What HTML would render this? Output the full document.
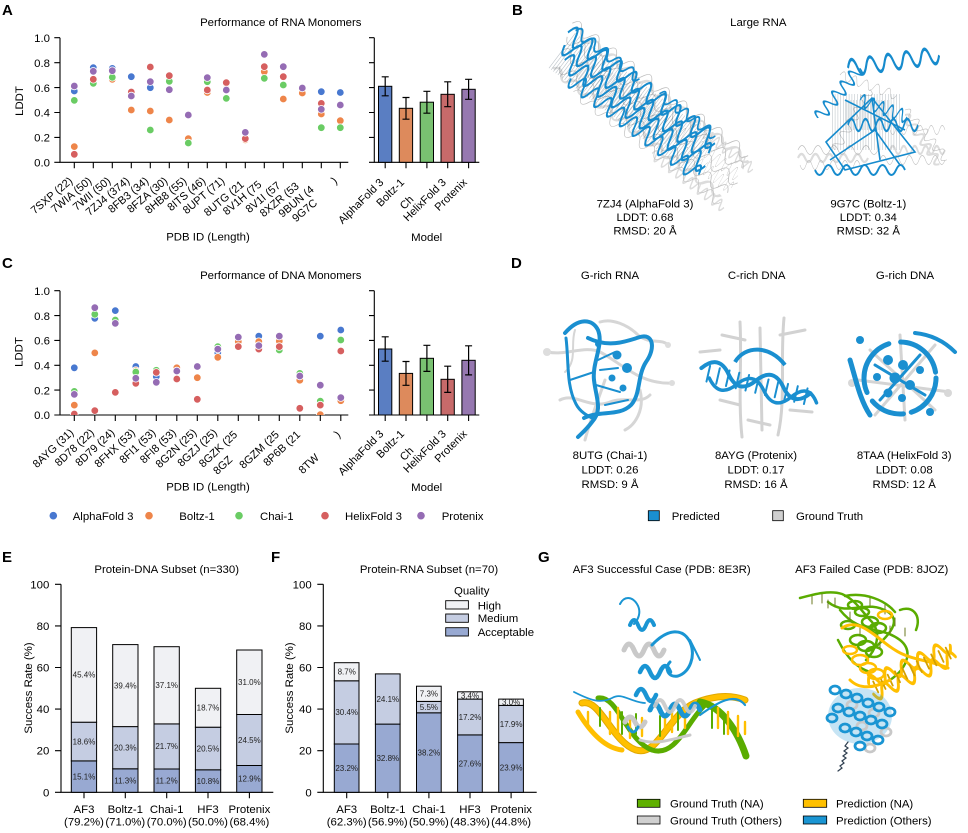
<!DOCTYPE html>
<html><head><meta charset="utf-8"><style>
html,body{margin:0;padding:0;background:#fff;}
svg{display:block;font-family:"Liberation Sans",Arial,sans-serif;}
.L{font-weight:bold;font-size:15px;}
.s{font-size:8px;}
.r{font-size:11px;}
</style></head><body>
<svg width="968" height="833" viewBox="0 0 968 833" xmlns="http://www.w3.org/2000/svg" font-size="11.4" fill="#000">
<defs>
<path id="wv" d="M0,0 q5,-14 10,0 t10,0 t10,0 t10,0 t10,0 t10,0 t10,0 t10,0 t10,0 t10,0 t10,0 t10,0 t10,0 t10,0 t10,0 t10,0 t10,0 t10,0 t10,0 t10,0"/>
<path id="wvs" d="M0,0 q5,-10 10,0 t10,0 t10,0 t10,0 t10,0 t10,0 t10,0 t10,0 t10,0 t10,0"/>
<clipPath id="ca"><rect x="60" y="30" width="290" height="132.3"/></clipPath>
<clipPath id="cc"><rect x="60" y="283" width="290" height="132"/></clipPath>
</defs>
<rect width="968" height="833" fill="#fff"/>

<!-- ================= PANEL A ================= -->
<text x="2" y="15" class="L">A</text>
<text x="280.8" y="26" text-anchor="middle">Performance of RNA Monomers</text>
<g stroke="#000" stroke-width="1.1" fill="none">
<path d="M60,37.7V162.3H348.3"/>
<path d="M54.3,162.3H60M54.3,137.4H60M54.3,112.5H60M54.3,87.6H60M54.3,62.7H60M54.3,37.7H60"/>
<path d="M74.3,162.3v6M93.3,162.3v6M112.3,162.3v6M131.3,162.3v6M150.3,162.3v6M169.3,162.3v6M188.3,162.3v6M207.3,162.3v6M226.3,162.3v6M245.3,162.3v6M264.3,162.3v6M283.3,162.3v6M302.3,162.3v6M321.3,162.3v6M340.3,162.3v6"/>
<path d="M374.3,37.7V162.3H479.3"/>
<path d="M369,162.3h5.3M369,137.4h5.3M369,112.5h5.3M369,87.6h5.3M369,62.7h5.3M369,37.7h5.3"/>
<path d="M385.2,162.3v6M406,162.3v6M426.9,162.3v6M447.7,162.3v6M468.6,162.3v6"/>
</g>
<g text-anchor="end">
<text x="50" y="166.5">0.0</text><text x="50" y="141.6">0.2</text><text x="50" y="116.7">0.4</text><text x="50" y="91.8">0.6</text><text x="50" y="66.9">0.8</text><text x="50" y="41.9">1.0</text>
</g>
<text transform="translate(23,101) rotate(-90)" text-anchor="middle">LDDT</text>
<text x="208" y="240.5" text-anchor="middle">PDB ID (Length)</text>
<text x="426.7" y="241" text-anchor="middle">Model</text>
<g class="r" text-anchor="end">
<text transform="translate(73.3,182) rotate(-40)">7SXP (22)</text>
<text transform="translate(92.3,182) rotate(-40)">7WIA (50)</text>
<text transform="translate(111.3,182) rotate(-40)">7WII (50)</text>
<text transform="translate(130.3,182) rotate(-40)">7ZJ4 (374)</text>
<text transform="translate(149.3,182) rotate(-40)">8FB3 (34)</text>
<text transform="translate(168.3,182) rotate(-40)">8FZA (30)</text>
<text transform="translate(187.3,182) rotate(-40)">8HB8 (55)</text>
<text transform="translate(206.3,182) rotate(-40)">8ITS (46)</text>
<text transform="translate(225.3,182) rotate(-40)">8UPT (71)</text>
<text transform="translate(244.7,185.7) rotate(-40)">8UTG (21</text>
<text transform="translate(262.3,185.7) rotate(-40)">8V1H (75</text>
<text transform="translate(281.3,186.7) rotate(-40)">8V1I (57</text>
<text transform="translate(299.7,187.3) rotate(-40)">8XZR (53</text>
<text transform="translate(314.7,190.7) rotate(-40)">9BUN (4</text>
<text transform="translate(318,204) rotate(-40)">9G7C</text>
<text transform="translate(338,182) rotate(-40)">)</text>
<text transform="translate(384.2,183) rotate(-45)">AlphaFold 3</text>
<text transform="translate(405,183) rotate(-45)">Boltz-1</text>
<text transform="translate(414.2,200) rotate(-45)">Ch</text>
<text transform="translate(446.7,183) rotate(-45)">HelixFold 3</text>
<text transform="translate(467.6,183) rotate(-45)">Protenix</text>
</g>
<g clip-path="url(#ca)" stroke="#fff" stroke-width="0.8">
<g fill="#4878d0"><circle cx="74.3" cy="91" r="3.8"/><circle cx="93.3" cy="67.7" r="3.8"/><circle cx="112.3" cy="68.4" r="3.8"/><circle cx="131.3" cy="76.7" r="3.8"/><circle cx="150.3" cy="87.7" r="3.8"/><circle cx="302.3" cy="87.5" r="3.8"/><circle cx="321.3" cy="91.7" r="3.8"/><circle cx="340.3" cy="92.5" r="3.8"/></g>
<g fill="#ee854a"><circle cx="74.3" cy="146.6" r="3.8"/><circle cx="93.3" cy="81.3" r="3.8"/><circle cx="112.3" cy="79.3" r="3.8"/><circle cx="131.3" cy="110" r="3.8"/><circle cx="150.3" cy="111" r="3.8"/><circle cx="169.3" cy="120" r="3.8"/><circle cx="188.3" cy="138.6" r="3.8"/><circle cx="207.3" cy="92.5" r="3.8"/><circle cx="226.3" cy="83.8" r="3.8"/><circle cx="245.3" cy="139.9" r="3.8"/><circle cx="264.3" cy="71.7" r="3.8"/><circle cx="283.3" cy="99" r="3.8"/><circle cx="302.3" cy="93" r="3.8"/><circle cx="321.3" cy="114" r="3.8"/><circle cx="340.3" cy="120.7" r="3.8"/></g>
<g fill="#6acc64"><circle cx="74.3" cy="100.4" r="3.8"/><circle cx="93.3" cy="83.3" r="3.8"/><circle cx="112.3" cy="77.3" r="3.8"/><circle cx="150.3" cy="130" r="3.8"/><circle cx="169.3" cy="81.3" r="3.8"/><circle cx="188.3" cy="143" r="3.8"/><circle cx="207.3" cy="81.7" r="3.8"/><circle cx="226.3" cy="98.4" r="3.8"/><circle cx="264.3" cy="78.3" r="3.8"/><circle cx="283.3" cy="85" r="3.8"/><circle cx="321.3" cy="127.7" r="3.8"/><circle cx="340.3" cy="127.7" r="3.8"/></g>
<g fill="#d65f5f"><circle cx="74.3" cy="154.3" r="3.8"/><circle cx="93.3" cy="79.3" r="3.8"/><circle cx="131.3" cy="92" r="3.8"/><circle cx="150.3" cy="67" r="3.8"/><circle cx="169.3" cy="75.7" r="3.8"/><circle cx="207.3" cy="90" r="3.8"/><circle cx="226.3" cy="82.6" r="3.8"/><circle cx="245.3" cy="138.6" r="3.8"/><circle cx="264.3" cy="66.7" r="3.8"/><circle cx="283.3" cy="76.7" r="3.8"/><circle cx="321.3" cy="103.4" r="3.8"/></g>
<g fill="#956cb4"><circle cx="74.3" cy="86" r="3.8"/><circle cx="93.3" cy="71.3" r="3.8"/><circle cx="112.3" cy="70.7" r="3.8"/><circle cx="131.3" cy="96" r="3.8"/><circle cx="150.3" cy="81.7" r="3.8"/><circle cx="169.3" cy="89.7" r="3.8"/><circle cx="188.3" cy="115" r="3.8"/><circle cx="207.3" cy="77.6" r="3.8"/><circle cx="226.3" cy="90" r="3.8"/><circle cx="245.3" cy="132.4" r="3.8"/><circle cx="264.3" cy="54.4" r="3.8"/><circle cx="283.3" cy="66.7" r="3.8"/><circle cx="302.3" cy="88" r="3.8"/><circle cx="321.3" cy="109.3" r="3.8"/><circle cx="340.3" cy="105" r="3.8"/></g>
</g>
<g stroke="#000" stroke-width="1">
<rect x="378.5" y="86.3" width="13.3" height="76" fill="#5a7ec2"/>
<rect x="399.3" y="108.3" width="13.3" height="54" fill="#dd8a5c"/>
<rect x="420.2" y="102.2" width="13.3" height="60.1" fill="#79c171"/>
<rect x="441" y="94.3" width="13.3" height="68" fill="#c76a6a"/>
<rect x="461.9" y="89.3" width="13.3" height="73" fill="#9678b0"/>
<path fill="none" stroke-width="1.2" d="M385.2,76.8V95.8M381.7,76.8h7M381.7,95.8h7M406,97.5V119.2M402.5,97.5h7M402.5,119.2h7M426.9,91.3V113.2M423.4,91.3h7M423.4,113.2h7M447.7,81.8V106.7M444.2,81.8h7M444.2,106.7h7M468.6,79.3V99.3M465.1,79.3h7M465.1,99.3h7"/>
</g>

<!-- ================= PANEL B ================= -->
<text x="512" y="15" class="L">B</text>
<text x="758.3" y="26" text-anchor="middle">Large RNA</text>
<g fill="none">
<g transform="translate(645,113) rotate(37)">
<g stroke="#dcdcdc" stroke-width="3"><use href="#wv" transform="translate(-108,-24) scale(1.1,0.6)"/><use href="#wv" transform="translate(-100,20) scale(1.05,0.6)"/><use href="#wv" transform="translate(30,28) scale(0.45,0.7)"/><use href="#wv" transform="translate(40,-20) scale(0.4,0.7)"/></g>
<g stroke="#bdbdbd" stroke-width="0.8"><use href="#wv" transform="translate(-112,-28) scale(1.1,0.8)"/><use href="#wv" transform="translate(-108,-14) scale(1.1,-0.8)"/><use href="#wv" transform="translate(-104,0) scale(1.1,0.8)"/><use href="#wv" transform="translate(-96,14) scale(1.05,-0.8)"/><use href="#wv" transform="translate(-70,26) scale(0.92,0.7)"/><use href="#wv" transform="translate(40,-6) scale(0.36,0.9)"/><use href="#wv" transform="translate(50,8) scale(0.32,-0.9)"/></g>
<path d="M-104,0H72" stroke="#34495a" stroke-width="44" stroke-dasharray="0.6 2.2" opacity="0.33"/>
<path d="M-80,0H40" stroke="#34495a" stroke-width="26" stroke-dasharray="0.6 2.4" opacity="0.3"/>
<g stroke="#168bcd" stroke-width="2.1"><use href="#wv" transform="translate(-110,-18) scale(0.92,1.3)"/><use href="#wv" transform="translate(-105,-6) scale(0.9,-1.3)"/><use href="#wv" transform="translate(-96,6) scale(0.88,1.3)"/><use href="#wv" transform="translate(-80,17) scale(0.8,-1.2)"/><use href="#wvs" transform="translate(-105,-24) scale(0.8,1)"/><use href="#wvs" transform="translate(0,-24) scale(0.7,1)"/></g>
</g>
<g stroke="#dcdcdc" stroke-width="3"><use href="#wvs" transform="translate(798,158) scale(0.7,0.8)"/><use href="#wvs" transform="translate(890,150) scale(0.55,0.8)"/><use href="#wvs" transform="translate(905,115) rotate(55) scale(0.6,0.8)"/></g>
<g stroke="#bdbdbd" stroke-width="0.8"><use href="#wvs" transform="translate(798,150) scale(0.8,0.9)"/><use href="#wvs" transform="translate(800,165) scale(0.6,-0.9)"/><use href="#wvs" transform="translate(880,160) scale(0.65,0.9)"/><use href="#wvs" transform="translate(890,130) scale(0.55,-0.9)"/><use href="#wvs" transform="translate(835,150) rotate(-60) scale(0.7,0.9)"/><use href="#wvs" transform="translate(905,110) rotate(50) scale(0.65,0.9)"/><use href="#wvs" transform="translate(840,75) rotate(20) scale(0.6,0.9)"/></g>
<path d="M832,122H900" stroke="#34495a" stroke-width="56" stroke-dasharray="0.6 2.2" opacity="0.3"/>
<path d="M845,115H890" stroke="#34495a" stroke-width="30" stroke-dasharray="0.6 2.2" opacity="0.3"/>
<g stroke="#168bcd" stroke-width="2.1"><use href="#wvs" transform="translate(848,68) rotate(-8) scale(0.92,1.6)"/><use href="#wvs" transform="translate(818,118) rotate(-50) scale(0.65,1.2)"/><use href="#wvs" transform="translate(848,125) scale(0.7,1.2)"/><use href="#wvs" transform="translate(815,170) scale(0.9,-1)"/><use href="#wvs" transform="translate(860,100) rotate(20) scale(0.5,1.2)"/><path stroke-width="1.6" d="M826,142L872,98L915,152L845,170ZM872,98L880,160M845,100L905,130M830,160L875,130L900,165"/></g>
</g>
<g text-anchor="middle">
<text x="645" y="207.5">7ZJ4 (AlphaFold 3)</text><text x="645" y="221">LDDT: 0.68</text><text x="645" y="234.5">RMSD: 20 Å</text>
<text x="868.3" y="207.5">9G7C (Boltz-1)</text><text x="868.3" y="221">LDDT: 0.34</text><text x="868.3" y="234.5">RMSD: 32 Å</text>
</g>

<!-- ================= PANEL C ================= -->
<text x="2" y="268" class="L">C</text>
<text x="280.8" y="279" text-anchor="middle">Performance of DNA Monomers</text>
<g stroke="#000" stroke-width="1.1" fill="none">
<path d="M60,290.7V415H348.3"/>
<path d="M54.3,415H60M54.3,390.1H60M54.3,365.3H60M54.3,340.4H60M54.3,315.6H60M54.3,290.7H60"/>
<path d="M74.3,415v6M94.8,415v6M115.3,415v6M135.8,415v6M156.3,415v6M176.8,415v6M197.3,415v6M217.8,415v6M238.3,415v6M258.8,415v6M279.3,415v6M299.8,415v6M320.3,415v6M340.8,415v6"/>
<path d="M374.3,290.7V415H479.3"/>
<path d="M369,415h5.3M369,390.1h5.3M369,365.3h5.3M369,340.4h5.3M369,315.6h5.3M369,290.7h5.3"/>
<path d="M385.2,415v6M406,415v6M426.9,415v6M447.7,415v6M468.6,415v6"/>
</g>
<g text-anchor="end">
<text x="50" y="419.2">0.0</text><text x="50" y="394.3">0.2</text><text x="50" y="369.5">0.4</text><text x="50" y="344.6">0.6</text><text x="50" y="319.8">0.8</text><text x="50" y="294.9">1.0</text>
</g>
<text transform="translate(22.5,352) rotate(-90)" text-anchor="middle">LDDT</text>
<text x="208" y="490.5" text-anchor="middle">PDB ID (Length)</text>
<text x="426.7" y="491" text-anchor="middle">Model</text>
<g class="r" text-anchor="end">
<text transform="translate(74.3,433.5) rotate(-43)">8AYG (31)</text>
<text transform="translate(94.8,433.5) rotate(-43)">8D78 (22)</text>
<text transform="translate(115.3,433.5) rotate(-43)">8D79 (24)</text>
<text transform="translate(135.8,433.5) rotate(-43)">8FHX (53)</text>
<text transform="translate(156.3,433.5) rotate(-43)">8FI1 (53)</text>
<text transform="translate(176.8,433.5) rotate(-43)">8FI8 (53)</text>
<text transform="translate(197.3,433.5) rotate(-43)">8G2N (25)</text>
<text transform="translate(217.8,433.5) rotate(-43)">8GZJ (25)</text>
<text transform="translate(238,435.5) rotate(-43)">8GZK (25</text>
<text transform="translate(233,460.5) rotate(-43)">8GZ</text>
<text transform="translate(279.7,435.5) rotate(-43)">8GZM (25</text>
<text transform="translate(301,435.5) rotate(-43)">8P6B (21</text>
<text transform="translate(319.7,458.5) rotate(-43)">8TW</text>
<text transform="translate(341,435.5) rotate(-43)">)</text>
<text transform="translate(384.2,434.5) rotate(-45)">AlphaFold 3</text>
<text transform="translate(405,434.5) rotate(-45)">Boltz-1</text>
<text transform="translate(414.2,451.3) rotate(-45)">Ch</text>
<text transform="translate(446.7,434.5) rotate(-45)">HelixFold 3</text>
<text transform="translate(467.6,434.5) rotate(-45)">Protenix</text>
</g>
<g clip-path="url(#cc)" stroke="#fff" stroke-width="0.8">
<g fill="#4878d0"><circle cx="74.3" cy="367.8" r="3.8"/><circle cx="94.8" cy="318.4" r="3.8"/><circle cx="115.3" cy="310.6" r="3.8"/><circle cx="135.8" cy="366.5" r="3.8"/><circle cx="156.3" cy="376.5" r="3.8"/><circle cx="217.8" cy="352.9" r="3.8"/><circle cx="238.3" cy="340.4" r="3.8"/><circle cx="258.8" cy="336.1" r="3.8"/><circle cx="279.3" cy="342.9" r="3.8"/><circle cx="320.3" cy="336.1" r="3.8"/><circle cx="340.8" cy="330" r="3.8"/></g>
<g fill="#ee854a"><circle cx="74.3" cy="405.1" r="3.8"/><circle cx="94.8" cy="352.9" r="3.8"/><circle cx="135.8" cy="370.6" r="3.8"/><circle cx="176.8" cy="367.8" r="3.8"/><circle cx="197.3" cy="377.7" r="3.8"/><circle cx="217.8" cy="357.3" r="3.8"/><circle cx="238.3" cy="341.7" r="3.8"/><circle cx="258.8" cy="341.7" r="3.8"/><circle cx="279.3" cy="341" r="3.8"/><circle cx="299.8" cy="380.2" r="3.8"/><circle cx="320.3" cy="414.6" r="3.8"/><circle cx="340.8" cy="400.7" r="3.8"/></g>
<g fill="#6acc64"><circle cx="74.3" cy="391.4" r="3.8"/><circle cx="94.8" cy="314.3" r="3.8"/><circle cx="115.3" cy="320" r="3.8"/><circle cx="135.8" cy="372" r="3.8"/><circle cx="156.3" cy="370.3" r="3.8"/><circle cx="217.8" cy="346.6" r="3.8"/><circle cx="279.3" cy="350" r="3.8"/><circle cx="299.8" cy="373.4" r="3.8"/><circle cx="320.3" cy="401.1" r="3.8"/><circle cx="340.8" cy="340" r="3.8"/></g>
<g fill="#d65f5f"><circle cx="74.3" cy="414" r="3.8"/><circle cx="94.8" cy="410.6" r="3.8"/><circle cx="115.3" cy="392.4" r="3.8"/><circle cx="135.8" cy="383.3" r="3.8"/><circle cx="156.3" cy="372.4" r="3.8"/><circle cx="176.8" cy="379" r="3.8"/><circle cx="197.3" cy="399.3" r="3.8"/><circle cx="238.3" cy="346.6" r="3.8"/><circle cx="258.8" cy="349.1" r="3.8"/><circle cx="279.3" cy="346.6" r="3.8"/><circle cx="299.8" cy="408.3" r="3.8"/><circle cx="320.3" cy="405.1" r="3.8"/><circle cx="340.8" cy="351" r="3.8"/></g>
<g fill="#956cb4"><circle cx="74.3" cy="394.4" r="3.8"/><circle cx="94.8" cy="307.7" r="3.8"/><circle cx="115.3" cy="323.4" r="3.8"/><circle cx="135.8" cy="378.3" r="3.8"/><circle cx="156.3" cy="382.3" r="3.8"/><circle cx="176.8" cy="371" r="3.8"/><circle cx="197.3" cy="366.5" r="3.8"/><circle cx="217.8" cy="349.1" r="3.8"/><circle cx="238.3" cy="337.1" r="3.8"/><circle cx="258.8" cy="345.6" r="3.8"/><circle cx="279.3" cy="336.1" r="3.8"/><circle cx="299.8" cy="376" r="3.8"/><circle cx="320.3" cy="385.2" r="3.8"/><circle cx="340.8" cy="397.6" r="3.8"/></g>
</g>
<g stroke="#000" stroke-width="1">
<rect x="378.5" y="349" width="13.3" height="66" fill="#5a7ec2"/>
<rect x="399.3" y="373.4" width="13.3" height="41.6" fill="#dd8a5c"/>
<rect x="420.2" y="358.3" width="13.3" height="56.7" fill="#79c171"/>
<rect x="441" y="379.3" width="13.3" height="35.7" fill="#c76a6a"/>
<rect x="461.9" y="360.3" width="13.3" height="54.7" fill="#9678b0"/>
<path fill="none" stroke-width="1.2" d="M385.2,336.8V361.2M381.7,336.8h7M381.7,361.2h7M406,361.5V385.3M402.5,361.5h7M402.5,385.3h7M426.9,345.3V371.4M423.4,345.3h7M423.4,371.4h7M447.7,366.2V392.4M444.2,366.2h7M444.2,392.4h7M468.6,345.8V374.9M465.1,345.8h7M465.1,374.9h7"/>
</g>
<!-- legend -->
<g>
<circle cx="53.3" cy="515.7" r="3.8" fill="#4878d0"/><text x="72.7" y="519.8">AlphaFold 3</text>
<circle cx="149" cy="515.7" r="3.8" fill="#ee854a"/><text x="179.3" y="519.8">Boltz-1</text>
<circle cx="239" cy="515.7" r="3.8" fill="#6acc64"/><text x="260" y="519.8">Chai-1</text>
<circle cx="325" cy="515.7" r="3.8" fill="#d65f5f"/><text x="345" y="519.8">HelixFold 3</text>
<circle cx="421" cy="515.7" r="3.8" fill="#956cb4"/><text x="441.7" y="519.8">Protenix</text>
</g>

<!-- ================= PANEL D ================= -->
<text x="511" y="268" class="L">D</text>
<g text-anchor="middle">
<text x="610" y="279">G-rich RNA</text><text x="756.7" y="279">C-rich DNA</text><text x="905" y="279">G-rich DNA</text>
<text x="610" y="459">8UTG (Chai-1)</text><text x="610" y="473.5">LDDT: 0.26</text><text x="610" y="488">RMSD: 9 Å</text>
<text x="756" y="459">8AYG (Protenix)</text><text x="756" y="473.5">LDDT: 0.17</text><text x="756" y="488">RMSD: 16 Å</text>
<text x="904.2" y="459">8TAA (HelixFold 3)</text><text x="904.2" y="473.5">LDDT: 0.08</text><text x="904.2" y="488">RMSD: 12 Å</text>
</g>
<!-- D1 -->
<g fill="none" stroke="#d6d6d6" stroke-width="3" stroke-linecap="round">
<path d="M548,352C565,356 585,345 600,352C620,362 640,385 672,383"/>
<path d="M560,400C575,392 590,410 610,402C625,396 640,405 650,395"/>
<path d="M600,322C612,318 628,325 638,335C650,345 662,338 668,345"/>
<path d="M585,440C590,420 600,395 605,380"/>
<path d="M640,390C645,410 635,425 625,430"/>
<path d="M575,330C570,345 578,360 565,372" stroke-width="2"/>
</g>
<g fill="#ddd"><circle cx="547" cy="352" r="4"/><circle cx="668" cy="345" r="3"/><circle cx="672" cy="383" r="3"/></g>
<g fill="none" stroke="#1a8fd0" stroke-width="4" stroke-linecap="round" stroke-linejoin="round">
<path d="M565,333C578,318 592,318 598,330C604,345 592,362 594,380C596,398 603,410 592,422C586,430 581,434 578,437"/>
<path d="M588,338C608,348 625,342 640,337C653,333 656,348 646,362C637,376 641,394 631,405C619,417 600,410 584,418"/>
<path d="M566,338C569,362 566,385 576,404C580,412 588,416 592,418" stroke-width="3"/>
<path d="M598,360L615,352M596,385L620,392M605,405L628,400M570,380L594,372M600,370L618,368" stroke-width="2"/>
</g>
<g fill="#1a8fd0"><circle cx="617" cy="355" r="4.5"/><circle cx="627" cy="368" r="5"/><circle cx="612" cy="378" r="3.5"/><circle cx="623" cy="388" r="3.5"/><circle cx="598" cy="344" r="3"/></g>
<!-- D2 -->
<g fill="none" stroke="#d2d2d2" stroke-width="3" stroke-linecap="round">
<path d="M740,322C742,360 738,400 742,437"/><path d="M784,318C780,360 786,400 778,435"/><path d="M760,328L762,430"/>
<path d="M722,335L745,340M780,335L805,330M748,420L770,425M720,400L740,405M790,410L812,412M700,352L720,350"/>
</g>
<g transform="translate(757,385) rotate(13)" fill="none" stroke="#1a8fd0" stroke-linecap="round">
<path d="M-58,-4q14,-18 28,0t28,0t28,0t28,0" stroke-width="4"/>
<path d="M-48,4q14,18 28,0t28,0t28,0t26,0" stroke-width="3.5"/>
<path d="M-50,-8v16M-40,-8v16M-30,-8v16M-20,-8v16M-10,-8v16M0,-8v16M10,-8v16M20,-8v16M30,-8v16M40,-8v16M50,-8v16" stroke-width="2"/>
</g>
<path d="M735,362C745,345 770,345 785,365" fill="none" stroke="#1a8fd0" stroke-width="4"/>
<!-- D3 -->
<g fill="none" stroke="#d4d4d4" stroke-width="3" stroke-linecap="round">
<path d="M858,380L950,392M870,350L935,410M900,335L905,420M875,415L935,345"/>
</g>
<g fill="#d8d8d8"><circle cx="852" cy="383" r="4"/><circle cx="948" cy="393" r="4"/></g>
<g fill="none" stroke="#1a8fd0" stroke-linecap="round">
<circle cx="900" cy="378" r="36" stroke-width="5" stroke-dasharray="45 8 35 10 60 12 50 6"/>
<path d="M915,333C935,335 948,345 955,352" stroke-width="4"/>
<path d="M850,360C856,380 860,400 870,415" stroke-width="5"/>
<path d="M875,365L925,395M880,400L920,355" stroke-width="3"/>
</g>
<g fill="#1a8fd0"><circle cx="888" cy="360" r="5"/><circle cx="903" cy="365" r="5"/><circle cx="895" cy="378" r="5.5"/><circle cx="910" cy="385" r="5"/><circle cx="888" cy="393" r="4.5"/><circle cx="902" cy="398" r="4"/><circle cx="877" cy="377" r="4"/><circle cx="920" cy="370" r="4"/><circle cx="860" cy="340" r="4"/><circle cx="930" cy="412" r="4"/></g>
<!-- D legend -->
<rect x="648.3" y="510.7" width="11" height="10" fill="#1a8fd0" stroke="#000" stroke-width="0.8"/><text x="671.7" y="520">Predicted</text>
<rect x="772.7" y="510.7" width="10.6" height="10" fill="#d0d0d0" stroke="#000" stroke-width="0.8"/><text x="796" y="520">Ground Truth</text>

<!-- ================= PANEL E ================= -->
<text x="2" y="562" class="L">E</text>
<text x="166.7" y="573" text-anchor="middle">Protein-DNA Subset (n=330)</text>
<g stroke="#000" stroke-width="1.1" fill="none">
<path d="M61,584.3V792.3H273.3"/>
<path d="M55,792.3h6M55,750.7h6M55,709.1h6M55,667.5h6M55,625.9h6M55,584.3h6"/>
<path d="M84,792.3v6M125.3,792.3v6M166.7,792.3v6M208,792.3v6M249.4,792.3v6"/>
</g>
<g text-anchor="end"><text x="49.3" y="796.3">0</text><text x="49.3" y="754.7">20</text><text x="49.3" y="713.1">40</text><text x="49.3" y="671.5">60</text><text x="49.3" y="629.9">80</text><text x="49.3" y="588.3">100</text></g>
<text transform="translate(32,688) rotate(-90)" text-anchor="middle">Success Rate (%)</text>
<g stroke="#000" stroke-width="1">
<rect x="71.3" y="760.9" width="25.3" height="31.4" fill="#98a9d2"/><rect x="71.3" y="722.2" width="25.3" height="38.7" fill="#c5cde2"/><rect x="71.3" y="627.6" width="25.3" height="94.6" fill="#f0f1f4"/>
<rect x="112.7" y="768.8" width="25.3" height="23.5" fill="#98a9d2"/><rect x="112.7" y="726.6" width="25.3" height="42.2" fill="#c5cde2"/><rect x="112.7" y="644.6" width="25.3" height="82" fill="#f0f1f4"/>
<rect x="154" y="769" width="25.3" height="23.3" fill="#98a9d2"/><rect x="154" y="723.9" width="25.3" height="45.1" fill="#c5cde2"/><rect x="154" y="646.7" width="25.3" height="77.2" fill="#f0f1f4"/>
<rect x="195.4" y="769.8" width="25.3" height="22.5" fill="#98a9d2"/><rect x="195.4" y="727.2" width="25.3" height="42.6" fill="#c5cde2"/><rect x="195.4" y="688.3" width="25.3" height="38.9" fill="#f0f1f4"/>
<rect x="236.7" y="765.5" width="25.3" height="26.8" fill="#98a9d2"/><rect x="236.7" y="714.5" width="25.3" height="51" fill="#c5cde2"/><rect x="236.7" y="650" width="25.3" height="64.5" fill="#f0f1f4"/>
</g>
<g class="s" text-anchor="middle" fill="#222">
<text x="84" y="779.4">15.1%</text><text x="84" y="744.3">18.6%</text><text x="84" y="677.7">45.4%</text>
<text x="125.3" y="783.3">11.3%</text><text x="125.3" y="750.5">20.3%</text><text x="125.3" y="688.4">39.4%</text>
<text x="166.7" y="783.4">11.2%</text><text x="166.7" y="749.2">21.7%</text><text x="166.7" y="688.1">37.1%</text>
<text x="208" y="783.8">10.8%</text><text x="208" y="751.3">20.5%</text><text x="208" y="710.5">18.7%</text>
<text x="249.4" y="781.7">12.9%</text><text x="249.4" y="742.8">24.5%</text><text x="249.4" y="685">31.0%</text>
</g>
<g text-anchor="middle">
<text x="84" y="813">AF3</text><text x="84" y="825.5">(79.2%)</text>
<text x="125.3" y="813">Boltz-1</text><text x="125.3" y="825.5">(71.0%)</text>
<text x="166.7" y="813">Chai-1</text><text x="166.7" y="825.5">(70.0%)</text>
<text x="208" y="813">HF3</text><text x="208" y="825.5">(50.0%)</text>
<text x="249.4" y="813">Protenix</text><text x="249.4" y="825.5">(68.4%)</text>
</g>

<!-- ================= PANEL F ================= -->
<text x="271" y="562" class="L">F</text>
<text x="429" y="573" text-anchor="middle">Protein-RNA Subset (n=70)</text>
<g stroke="#000" stroke-width="1.1" fill="none">
<path d="M323.3,584.3V792.3H536.7"/>
<path d="M317.3,792.3h6M317.3,750.7h6M317.3,709.1h6M317.3,667.5h6M317.3,625.9h6M317.3,584.3h6"/>
<path d="M346.7,792.3v6M387.8,792.3v6M428.9,792.3v6M470,792.3v6M511.1,792.3v6"/>
</g>
<g text-anchor="end"><text x="311.7" y="796.3">0</text><text x="311.7" y="754.7">20</text><text x="311.7" y="713.1">40</text><text x="311.7" y="671.5">60</text><text x="311.7" y="629.9">80</text><text x="311.7" y="588.3">100</text></g>
<text transform="translate(293,688) rotate(-90)" text-anchor="middle">Success Rate (%)</text>
<g stroke="#000" stroke-width="1">
<rect x="334.3" y="744" width="24.7" height="48.3" fill="#98a9d2"/><rect x="334.3" y="680.8" width="24.7" height="63.2" fill="#c5cde2"/><rect x="334.3" y="662.7" width="24.7" height="18.1" fill="#f0f1f4"/>
<rect x="375.4" y="724.1" width="24.7" height="68.2" fill="#98a9d2"/><rect x="375.4" y="673.9" width="24.7" height="50.2" fill="#c5cde2"/>
<rect x="416.5" y="712.8" width="24.7" height="79.5" fill="#98a9d2"/><rect x="416.5" y="701.4" width="24.7" height="11.4" fill="#c5cde2"/><rect x="416.5" y="686.2" width="24.7" height="15.2" fill="#f0f1f4"/>
<rect x="457.6" y="734.9" width="24.7" height="57.4" fill="#98a9d2"/><rect x="457.6" y="699.1" width="24.7" height="35.8" fill="#c5cde2"/><rect x="457.6" y="691.8" width="24.7" height="7.3" fill="#f0f1f4"/>
<rect x="498.7" y="742.6" width="24.7" height="49.7" fill="#98a9d2"/><rect x="498.7" y="705.4" width="24.7" height="37.2" fill="#c5cde2"/><rect x="498.7" y="699.1" width="24.7" height="6.3" fill="#f0f1f4"/>
</g>
<g class="s" text-anchor="middle" fill="#222">
<text x="346.7" y="771">23.2%</text><text x="346.7" y="715.2">30.4%</text><text x="346.7" y="674.6">8.7%</text>
<text x="387.8" y="761">32.8%</text><text x="387.8" y="701.8">24.1%</text>
<text x="428.9" y="755.4">38.2%</text><text x="428.9" y="709.9">5.5%</text><text x="428.9" y="696.6">7.3%</text>
<text x="470" y="766.4">27.6%</text><text x="470" y="719.8">17.2%</text><text x="470" y="698.3">3.4%</text>
<text x="511.1" y="770.3">23.9%</text><text x="511.1" y="726.8">17.9%</text><text x="511.1" y="705.1">3.0%</text>
</g>
<g text-anchor="middle">
<text x="346.7" y="813">AF3</text><text x="346.7" y="825.5">(62.3%)</text>
<text x="387.8" y="813">Boltz-1</text><text x="387.8" y="825.5">(56.9%)</text>
<text x="428.9" y="813">Chai-1</text><text x="428.9" y="825.5">(50.9%)</text>
<text x="470" y="813">HF3</text><text x="470" y="825.5">(48.3%)</text>
<text x="511.1" y="813">Protenix</text><text x="511.1" y="825.5">(44.8%)</text>
</g>
<text x="471.7" y="594.5" text-anchor="middle">Quality</text>
<g stroke="#000" stroke-width="0.9">
<rect x="445.7" y="600.7" width="22.7" height="8.3" fill="#f0f1f4"/>
<rect x="445.7" y="614" width="22.7" height="8.3" fill="#c5cde2"/>
<rect x="445.7" y="627.7" width="22.7" height="8.3" fill="#98a9d2"/>
</g>
<text x="477.7" y="609.3">High</text><text x="477.7" y="622">Medium</text><text x="477.7" y="636">Acceptable</text>

<!-- ================= PANEL G ================= -->
<text x="538" y="562" class="L">G</text>
<text x="661.7" y="573" text-anchor="middle">AF3 Successful Case (PDB: 8E3R)</text>
<text x="871.7" y="573" text-anchor="middle">AF3 Failed Case (PDB: 8JOZ)</text>
<!-- G left -->
<g fill="none" stroke-linecap="round" stroke-linejoin="round">
<!-- DNA -->
<path d="M578,712C590,732 605,748 622,750" stroke="#ffbf00" stroke-width="5"/>
<path d="M582,703C600,698 612,742 636,750C658,757 668,715 695,703C715,695 732,695 745,700" stroke="#e0a800" stroke-width="7"/>
<path d="M582,703C600,698 612,742 636,750C658,757 668,715 695,703C715,695 732,695 745,700" stroke="#ffc000" stroke-width="5"/>
<path d="M598,698C618,695 626,740 652,750C676,758 688,720 705,705" stroke="#5aac00" stroke-width="5"/>
<path d="M700,702C722,706 738,732 746,756" stroke="#5aac00" stroke-width="7"/>
<path d="M610,712v22M618,708v24M630,716v22M642,718v18M665,716v18M672,712v20M685,708v20M718,708v20M728,712v22M738,716v20M745,722v12M588,712v16" stroke="#ffbf00" stroke-width="2.4"/>
<path d="M622,712v22M636,714v20M660,716v20M678,712v18M712,710v18M724,714v20M600,708v18" stroke="#5aac00" stroke-width="2"/>
<!-- protein -->
<path d="M620,604C624,596 632,596 637,604C642,612 638,620 634,624" stroke="#1a95d3" stroke-width="2"/>
<path d="M630,625q4,-10 8,0t8,0t8,0" stroke="#1a95d3" stroke-width="4"/>
<path d="M624,650q5,-12 10,0t10,0t10,0t10,0" stroke="#c9c9c9" stroke-width="5"/>
<path d="M652,645C668,628 683,628 690,642C696,656 690,672 678,676C668,678 664,668 670,662" stroke="#1a95d3" stroke-width="3"/>
<path d="M690,640L700,660" stroke="#1a95d3" stroke-width="2"/>
<path d="M640,672q5,-12 10,0t10,0t10,0" stroke="#1a95d3" stroke-width="4.5"/>
<path d="M636,695q5,-12 10,0t10,0" stroke="#1a95d3" stroke-width="4.5"/>
<path d="M650,710q5,-12 10,0t10,0t10,0t10,0t10,0" stroke="#1a95d3" stroke-width="5"/>
<path d="M655,706q5,-12 10,0t10,0t10,0t10,0" stroke="#c9c9c9" stroke-width="4" opacity="0.9"/>
<path d="M625,722q5,-10 10,0t10,0" stroke="#c9c9c9" stroke-width="5"/>
<path d="M628,727q5,10 10,0" stroke="#1a95d3" stroke-width="3"/>
<path d="M574,692C590,700 600,704 612,698C622,692 630,702 645,703" stroke="#1a95d3" stroke-width="1.8"/>
<path d="M700,715C718,702 735,692 745,705" stroke="#1a95d3" stroke-width="2.2"/>
<path d="M640,740C655,745 670,740 690,735" stroke="#c9c9c9" stroke-width="3"/>
</g>
<!-- G right -->
<g fill="none" stroke-linecap="round">
<path d="M800,598C815,594 830,590 842,594C856,600 862,612 872,622C882,634 876,650 866,660" stroke="#5aac00" stroke-width="2.5"/>
<path d="M828,602C848,618 866,598 888,612C904,622 884,640 872,650" stroke="#5aac00" stroke-width="2.5"/>
<path d="M840,610C860,635 880,625 900,640C915,652 905,670 890,680" stroke="#5aac00" stroke-width="2.5"/>
<path d="M900,610C912,605 922,615 916,630" stroke="#5aac00" stroke-width="2.5"/>
<path d="M845,596C865,592 885,600 895,612" stroke="#5aac00" stroke-width="2.5"/>
<path d="M838,640C848,660 858,668 870,672" stroke="#5aac00" stroke-width="2.5"/>
<g stroke="#5aac00" stroke-width="2.5"><ellipse cx="858" cy="640" rx="8" ry="5"/><ellipse cx="866" cy="646" rx="8" ry="5"/><ellipse cx="874" cy="652" rx="8" ry="5"/><ellipse cx="870" cy="622" rx="8" ry="5"/><ellipse cx="878" cy="628" rx="8" ry="5"/><ellipse cx="855" cy="605" rx="7" ry="4"/><ellipse cx="862" cy="612" rx="7" ry="4"/><ellipse cx="848" cy="625" rx="7" ry="4"/></g>
<path d="M812,596v8M822,594v9M835,598v8M850,612v9M885,605v9M895,618v8M905,628v8M880,640v8M828,600v8M870,598v8M890,626v8M860,628v8" stroke="#6b7a20" stroke-width="1"/>
<path d="M842,628C860,616 878,640 895,650C910,660 930,660 948,668" stroke="#ffbf00" stroke-width="3"/>
<g transform="translate(912,670) rotate(-25)" stroke="#ffbf00" stroke-width="3"><use href="#wvs" transform="translate(-45,-6) scale(0.9,1.3)"/><use href="#wvs" transform="translate(-45,6) scale(0.9,-1.3)"/><path d="M-40,-6v12M-32,-6v12M-24,-6v12M-16,-6v12M-8,-6v12M0,-6v12M8,-6v12M16,-6v12M24,-6v12M32,-6v12M40,-6v12" stroke-width="1.8" stroke="#d4a000"/></g>
<g stroke="#ffbf00" stroke-width="2.5"><ellipse cx="860" cy="660" rx="8" ry="5"/><ellipse cx="868" cy="668" rx="8" ry="5"/><ellipse cx="876" cy="674" rx="8" ry="5"/><ellipse cx="885" cy="615" rx="7" ry="4"/><ellipse cx="850" cy="650" rx="7" ry="4"/></g>
<path d="M850,680C860,690 875,688 890,680" stroke="#ffbf00" stroke-width="3"/>
<ellipse cx="860" cy="716" rx="32" ry="28" fill="#1a95d3" opacity="0.25" stroke="none"/>
<g stroke="#c8c8c8" stroke-width="2.8"><ellipse cx="852" cy="705" rx="5" ry="4"/><ellipse cx="874" cy="713" rx="5" ry="4"/><ellipse cx="862" cy="726" rx="5" ry="4"/><ellipse cx="886" cy="732" rx="5" ry="4"/><ellipse cx="870" cy="748" rx="5" ry="4"/></g>
<g stroke="#1a95d3" stroke-width="2.8"><ellipse cx="835" cy="690" rx="5" ry="4"/><ellipse cx="846" cy="694" rx="5" ry="4"/><ellipse cx="857" cy="698" rx="5" ry="4"/><ellipse cx="868" cy="703" rx="5" ry="4"/><ellipse cx="879" cy="707" rx="5" ry="4"/><ellipse cx="890" cy="712" rx="5" ry="4"/><ellipse cx="838" cy="708" rx="5" ry="4"/><ellipse cx="849" cy="712" rx="5" ry="4"/><ellipse cx="860" cy="716" rx="5" ry="4"/><ellipse cx="871" cy="720" rx="5" ry="4"/><ellipse cx="882" cy="724" rx="5" ry="4"/><ellipse cx="845" cy="728" rx="5" ry="4"/><ellipse cx="856" cy="732" rx="5" ry="4"/><ellipse cx="867" cy="736" rx="5" ry="4"/><ellipse cx="878" cy="740" rx="5" ry="4"/><ellipse cx="860" cy="746" rx="5" ry="4"/><ellipse cx="832" cy="718" rx="5" ry="4"/></g>
<path d="M848,742l-3,4l3,2l-4,3l3,2l-4,3l3,2l-4,3l2,2l-4,3l2,2l-4,3" stroke="#2f3f50" stroke-width="1.2"/>
</g>
<!-- G legend -->
<g stroke="#000" stroke-width="0.8">
<rect x="637.3" y="799.3" width="22.7" height="8" fill="#5fb000"/>
<rect x="637.3" y="816" width="22.7" height="8" fill="#d0d0d0"/>
<rect x="803.3" y="799.3" width="23.4" height="8" fill="#ffc000"/>
<rect x="803.3" y="816" width="23.4" height="8" fill="#1a95d3"/>
</g>
<text x="670" y="807.3">Ground Truth (NA)</text>
<text x="670" y="824.5">Ground Truth (Others)</text>
<text x="836" y="807.3">Prediction (NA)</text>
<text x="836" y="824.5">Prediction (Others)</text>
</svg>
</body></html>
